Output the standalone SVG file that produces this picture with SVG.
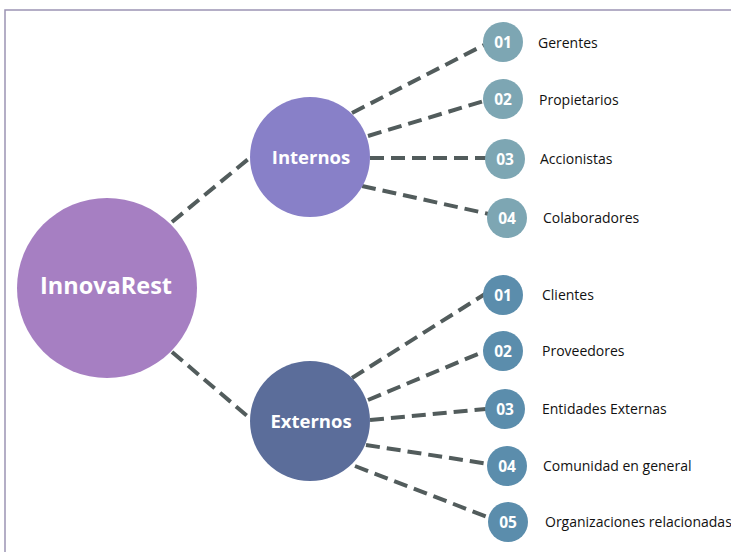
<svg xmlns="http://www.w3.org/2000/svg" width="731" height="552" viewBox="0 0 731 552">
<style>
.edge{stroke:#525c5c;stroke-width:4;stroke-dasharray:14 7;fill:none}
.num{font-family:"Open Sans","Noto Sans",sans-serif;font-weight:bold;font-size:15.5px;fill:#fff;text-anchor:middle}
.lbl{font-family:"Open Sans","Noto Sans",sans-serif;font-size:14px;fill:#111}
.big{font-family:"Open Sans","Noto Sans",sans-serif;font-weight:bold;fill:#fff;text-anchor:middle}
.si{fill:#7da6b3}
.se{fill:#5b8dac}
</style>
<rect width="731" height="552" fill="#fff"/>
<path d="M5 552 V10 H731" fill="none" stroke="#9c94b4" stroke-width="1.5"/>
<g id="connectors">
<line class="edge" x1="172" y1="222" x2="252" y2="156"/>
<line class="edge" x1="172" y1="352" x2="252" y2="420"/>
<line class="edge" x1="352" y1="113" x2="484" y2="45"/>
<line class="edge" x1="368" y1="136" x2="484" y2="101"/>
<line class="edge" x1="370" y1="158" x2="486" y2="158"/>
<line class="edge" x1="362" y1="186" x2="489" y2="214"/>
<line class="edge" x1="352" y1="378" x2="485" y2="294"/>
<line class="edge" x1="368" y1="400" x2="485" y2="351"/>
<line class="edge" x1="370" y1="420" x2="486" y2="409"/>
<line class="edge" x1="366" y1="445" x2="489" y2="464"/>
<line class="edge" x1="355" y1="466" x2="490" y2="518"/>
</g>
<g id="innovarest"><circle cx="107" cy="288" r="90" fill="#a67fc2"/><text class="big" x="106" y="294" font-size="23.5">InnovaRest</text></g>
<g id="internos"><circle cx="310" cy="157" r="60" fill="#8880c8"/><text class="big" x="311" y="164" font-size="18.5">Internos</text></g>
<g id="externos"><circle cx="310" cy="421" r="60" fill="#5b6d9a"/><text class="big" x="311" y="428" font-size="18.5">Externos</text></g>
<g id="i1"><circle class="si" cx="503" cy="42" r="20"/><text class="num" x="503" y="48">01</text><text class="lbl" x="538" y="48">Gerentes</text></g>
<g id="i2"><circle class="si" cx="503" cy="99" r="20"/><text class="num" x="503" y="105">02</text><text class="lbl" x="539" y="105">Propietarios</text></g>
<g id="i3"><circle class="si" cx="505" cy="159" r="20"/><text class="num" x="505" y="165">03</text><text class="lbl" x="540" y="164">Accionistas</text></g>
<g id="i4"><circle class="si" cx="507" cy="218" r="20"/><text class="num" x="507" y="224">04</text><text class="lbl" x="543" y="223">Colaboradores</text></g>
<g id="e1"><circle class="se" cx="503" cy="295" r="20"/><text class="num" x="503" y="301">01</text><text class="lbl" x="542" y="300">Clientes</text></g>
<g id="e2"><circle class="se" cx="503" cy="351" r="20"/><text class="num" x="503" y="357">02</text><text class="lbl" x="542" y="356">Proveedores</text></g>
<g id="e3"><circle class="se" cx="505" cy="409" r="20"/><text class="num" x="505" y="415">03</text><text class="lbl" x="542" y="414">Entidades Externas</text></g>
<g id="e4"><circle class="se" cx="507" cy="466" r="20"/><text class="num" x="507" y="472">04</text><text class="lbl" x="543" y="471">Comunidad en general</text></g>
<g id="e5"><circle class="se" cx="508" cy="522" r="20"/><text class="num" x="508" y="528">05</text><text class="lbl" x="545" y="527" font-size="13.6">Organizaciones relacionadas</text></g>
</svg>
